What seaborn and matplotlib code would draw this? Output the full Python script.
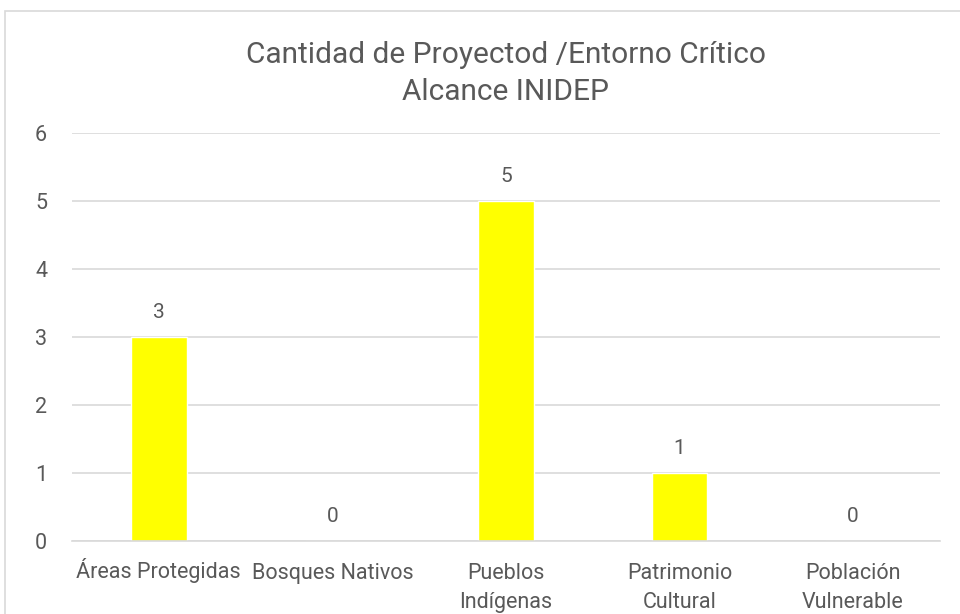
import matplotlib
matplotlib.use('Agg')
import matplotlib.pyplot as plt
import matplotlib.transforms as mtransforms
import seaborn as sns
import pandas as pd
from matplotlib.patches import Rectangle

sns.set_theme(style='white')
plt.rcParams['font.family'] = ['Roboto', 'DejaVu Sans']

categories = ['Áreas Protegidas', 'Bosques Nativos', 'Pueblos\nIndígenas',
              'Patrimonio\nCultural', 'Población\nVulnerable']
counts = [3, 0, 5, 1, 0]
title = 'Cantidad de Proyectod /Entorno Crítico\nAlcance INIDEP'

text_gray = '#595959'
grid_gray = '#d9d9d9'

df = pd.DataFrame({'Entorno': categories, 'Cantidad': counts})

fig = plt.figure(figsize=(9.6, 6.14), dpi=100)
ax = fig.add_axes([0.075, 0.119, 0.904, 0.6646])

sns.barplot(data=df, x='Entorno', y='Cantidad', color='#ffff00',
            saturation=1, width=0.32, ax=ax)
for c in ax.containers:
    ax.bar_label(c, padding=11, fontsize=15, color=text_gray)

ax.set_ylim(0, 6)
ax.set_yticks(range(0, 7))
ax.yaxis.grid(True, color=grid_gray, linewidth=1.2)
ax.set_axisbelow(True)
for s in ['top', 'right', 'left']:
    ax.spines[s].set_visible(False)
ax.spines['bottom'].set_color(grid_gray)
ax.spines['bottom'].set_linewidth(1.2)
ax.tick_params(axis='both', length=0, labelsize=15.5, colors=text_gray)
ax.tick_params(axis='y', pad=18)
ax.tick_params(axis='x', pad=16)
for lbl in ax.get_xticklabels():
    lbl.set_linespacing(1.5)
    lbl.set_verticalalignment('top')
    # the accent on Á makes the box taller; lift it so baselines line up
    if lbl.get_text().startswith('Á'):
        lift = mtransforms.ScaledTranslation(0, 0.05, fig.dpi_scale_trans)
        lbl.set_transform(lbl.get_transform() + lift)
ax.set_xlabel('')
ax.set_ylabel('')

fig.text(0.527, 0.933, title, ha='center', va='top', fontsize=21.5,
         color=text_gray, linespacing=1.4)

fig.add_artist(Rectangle((5 / 960, -0.1), 1.2, 1.1 - 11 / 614,
                         transform=fig.transFigure, fill=False,
                         edgecolor=grid_gray, linewidth=1.2))

fig.savefig('out.png', dpi=100)
